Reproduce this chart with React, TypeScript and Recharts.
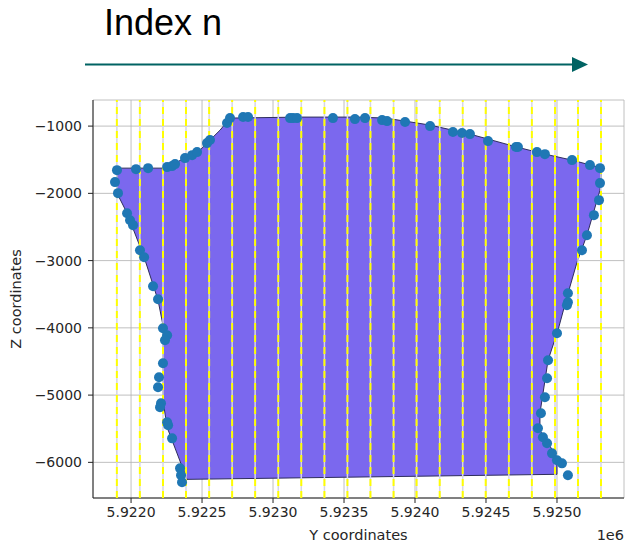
import { ComposedChart, Scatter, XAxis, YAxis, CartesianGrid, Label } from "recharts";

// section outline (polygon vertices), Y / Z coordinates
const outlineY = [
  5921901, 5922225, 5922296, 5922380, 5922472, 5922542, 5922627, 5922697, 5923190, 5923592, 5923789, 5923930,
  5924106, 5924387, 5924718, 5924915, 5925106, 5925317, 5925303, 5925211, 5925141, 5925070, 5925007, 5924937,
  5924880, 5924880, 5925000, 5925000, 5922394, 5922254, 5922225, 5922225, 5922190, 5922092, 5921972, 5921901,
];
const outlineZ = [
  -1625, -1625, -1580, -1461, -1387, -1238, -1060, -881, -866, -866, -881, -926,
  -985, -1119, -1312, -1417, -1506, -1625, -1952, -2622, -3024, -3544, -4036, -4482,
  -5271, -5524, -5925, -6178, -6253, -5479, -5077, -3961, -3589, -2949, -2295, -1997,
];

// measured boundary points
const pointY = [
  5921901, 5921887, 5921908, 5921972, 5921993, 5922014, 5922063, 5922092, 5922155, 5922190, 5922225, 5922254,
  5922239, 5922225, 5922197, 5922190, 5922211, 5922204, 5922254, 5922261, 5922289, 5922345, 5922352, 5922359,
  5922035, 5922120, 5922254, 5922289, 5922310, 5922380, 5922430, 5922465, 5922535, 5922556, 5922676, 5922697,
  5922789, 5922824, 5923120, 5923141, 5923169, 5923422, 5923577, 5923648, 5923768, 5923803, 5923930, 5924106,
  5924267, 5924331, 5924387, 5924514, 5924711, 5924725, 5924859, 5924915, 5925106, 5925232, 5925303, 5925303,
  5925296, 5925260, 5925211, 5925176, 5925077, 5925077, 5925070, 5925000, 5924937, 5924930, 5924915, 5924887,
  5924866, 5924901, 5924930, 5924965, 5925000, 5925035, 5925077,
];
const pointZ = [
  -1655, -1833, -1997, -2295, -2399, -2473, -2845, -2949, -3381, -3574, -4006, -4110,
  -4184, -4527, -4735, -4884, -5122, -5181, -5404, -5449, -5643, -6089, -6193, -6297,
  -1640, -1625, -1610, -1595, -1565, -1476, -1432, -1387, -1253, -1208, -955, -881,
  -866, -866, -881, -881, -881, -881, -896, -881, -911, -926, -940, -1000,
  -1089, -1104, -1119, -1223, -1312, -1312, -1387, -1417, -1506, -1580, -1625, -1848,
  -2101, -2324, -2622, -2845, -3485, -3619, -3664, -4080, -4482, -4750, -5032, -5271,
  -5494, -5628, -5717, -5866, -5970, -6015, -6193,
];

// section positions (yellow dashed lines)
const sectionLines = [
  5921900, 5922062, 5922225, 5922387, 5922550, 5922712, 5922874, 5923037, 5923199, 5923362, 5923524,
  5923686, 5923849, 5924011, 5924174, 5924336, 5924498, 5924661, 5924823, 5924986, 5925148, 5925310,
];

const xTicks = [5922000, 5922500, 5923000, 5923500, 5924000, 5924500, 5925000];
const yTicks = [-1000, -2000, -3000, -4000, -5000, -6000];
const xDomain = [5921732, 5925472];
const yDomain = [-6530, -612];

const outline = outlineY.map((y, i) => ({ y, z: outlineZ[i] }));
const points = pointY.map((y, i) => ({ y, z: pointZ[i] }));

const FONT = '"DejaVu Sans", sans-serif';
const fmtX = (v: number) => (v / 1e6).toFixed(4);
const fmtY = (v: number) => String(v).replace("-", "\u2212");

const OutlineShape = (props: any) => {
  const pts = (props.points || []).map((p: any) => `${p.x},${p.y}`).join(" ");
  return <polygon points={pts} fill="#7b68ee" stroke="#2e2e5c" strokeWidth={1} />;
};

const SectionShape = (props: any) => {
  const [a, b] = props.points || [];
  if (!a || !b) return <g />;
  return (
    <g>
      <line x1={a.x} y1={a.y} x2={b.x} y2={b.y} stroke="#d6d6e2" strokeWidth={1.5} />
      <line x1={a.x} y1={a.y} x2={b.x} y2={b.y} stroke="#ffff00" strokeWidth={2} strokeDasharray="7 5" />
    </g>
  );
};

const noDot = () => <g />;

export default function App() {
  return (
    <div style={{ position: "absolute", left: 0, top: 0, width: 628, height: 544, background: "#fff" }}>
      <div
        style={{
          position: "absolute",
          left: 104,
          top: 0,
          font: '36px "Liberation Sans", Arial, sans-serif',
          lineHeight: "46px",
          color: "#000",
        }}
      >
        Index n
      </div>
      <svg style={{ position: "absolute", left: 0, top: 0 }} width={628} height={90}>
        <line x1={85} y1={64.5} x2={574} y2={64.5} stroke="#006363" strokeWidth={2} />
        <polygon points="572,57 588,64.5 572,72" fill="#006363" />
      </svg>
      <div style={{ position: "absolute", left: 0, top: 0 }}>
        <ComposedChart width={628} height={544} margin={{ top: 100, right: 4, bottom: 0, left: 0 }}>
          <CartesianGrid stroke="#b0b0b0" strokeWidth={0.8} />
          <XAxis
            dataKey="y"
            type="number"
            domain={xDomain}
            ticks={xTicks}
            tickFormatter={fmtX}
            allowDataOverflow
            height={46}
            tickSize={5}
            tickMargin={4}
            stroke="#222"
            tick={{ fontSize: 14, fill: "#262626", fontFamily: FONT }}
          >
            <Label
              content={({ viewBox }: any) => (
                <text x={viewBox.x + viewBox.width / 2} y={540} textAnchor="middle" fontSize={14.5} fill="#262626" fontFamily={FONT}>
                  Y coordinates
                </text>
              )}
            />
            <Label
              content={({ viewBox }: any) => (
                <text x={viewBox.x + viewBox.width} y={540} textAnchor="end" fontSize={14.5} fill="#262626" fontFamily={FONT}>
                  1e6
                </text>
              )}
            />
          </XAxis>
          <XAxis xAxisId="top" orientation="top" type="number" domain={xDomain} height={0} tick={false} tickLine={false} stroke="#222" />
          <YAxis
            dataKey="z"
            type="number"
            domain={yDomain}
            ticks={yTicks}
            tickFormatter={fmtY}
            allowDataOverflow
            width={93}
            tickSize={5}
            tickMargin={6}
            stroke="#222"
            tick={{ fontSize: 14, fill: "#262626", fontFamily: FONT }}
          >
            <Label
              content={({ viewBox }: any) => {
                const cy = viewBox.y + viewBox.height / 2;
                return (
                  <text x={16} y={cy} transform={`rotate(-90 16 ${cy})`} textAnchor="middle" dominantBaseline="central" fontSize={14.5} fill="#262626" fontFamily={FONT}>
                    Z coordinates
                  </text>
                );
              }}
            />
          </YAxis>
          <YAxis yAxisId="right" orientation="right" type="number" domain={yDomain} width={0} tick={false} tickLine={false} stroke="#222" />
          <Scatter data={outline} line={OutlineShape} shape={noDot} isAnimationActive={false} />
          {sectionLines.map((v) => (
            <Scatter
              key={v}
              data={[
                { y: v, z: yDomain[0] },
                { y: v, z: yDomain[1] },
              ]}
              line={SectionShape}
              shape={noDot}
              isAnimationActive={false}
            />
          ))}
          <Scatter
            data={points}
            isAnimationActive={false}
            shape={(p: any) => <circle cx={p.cx} cy={p.cy} r={5} fill="#1f77b4" />}
          />
        </ComposedChart>
      </div>
    </div>
  );
}
